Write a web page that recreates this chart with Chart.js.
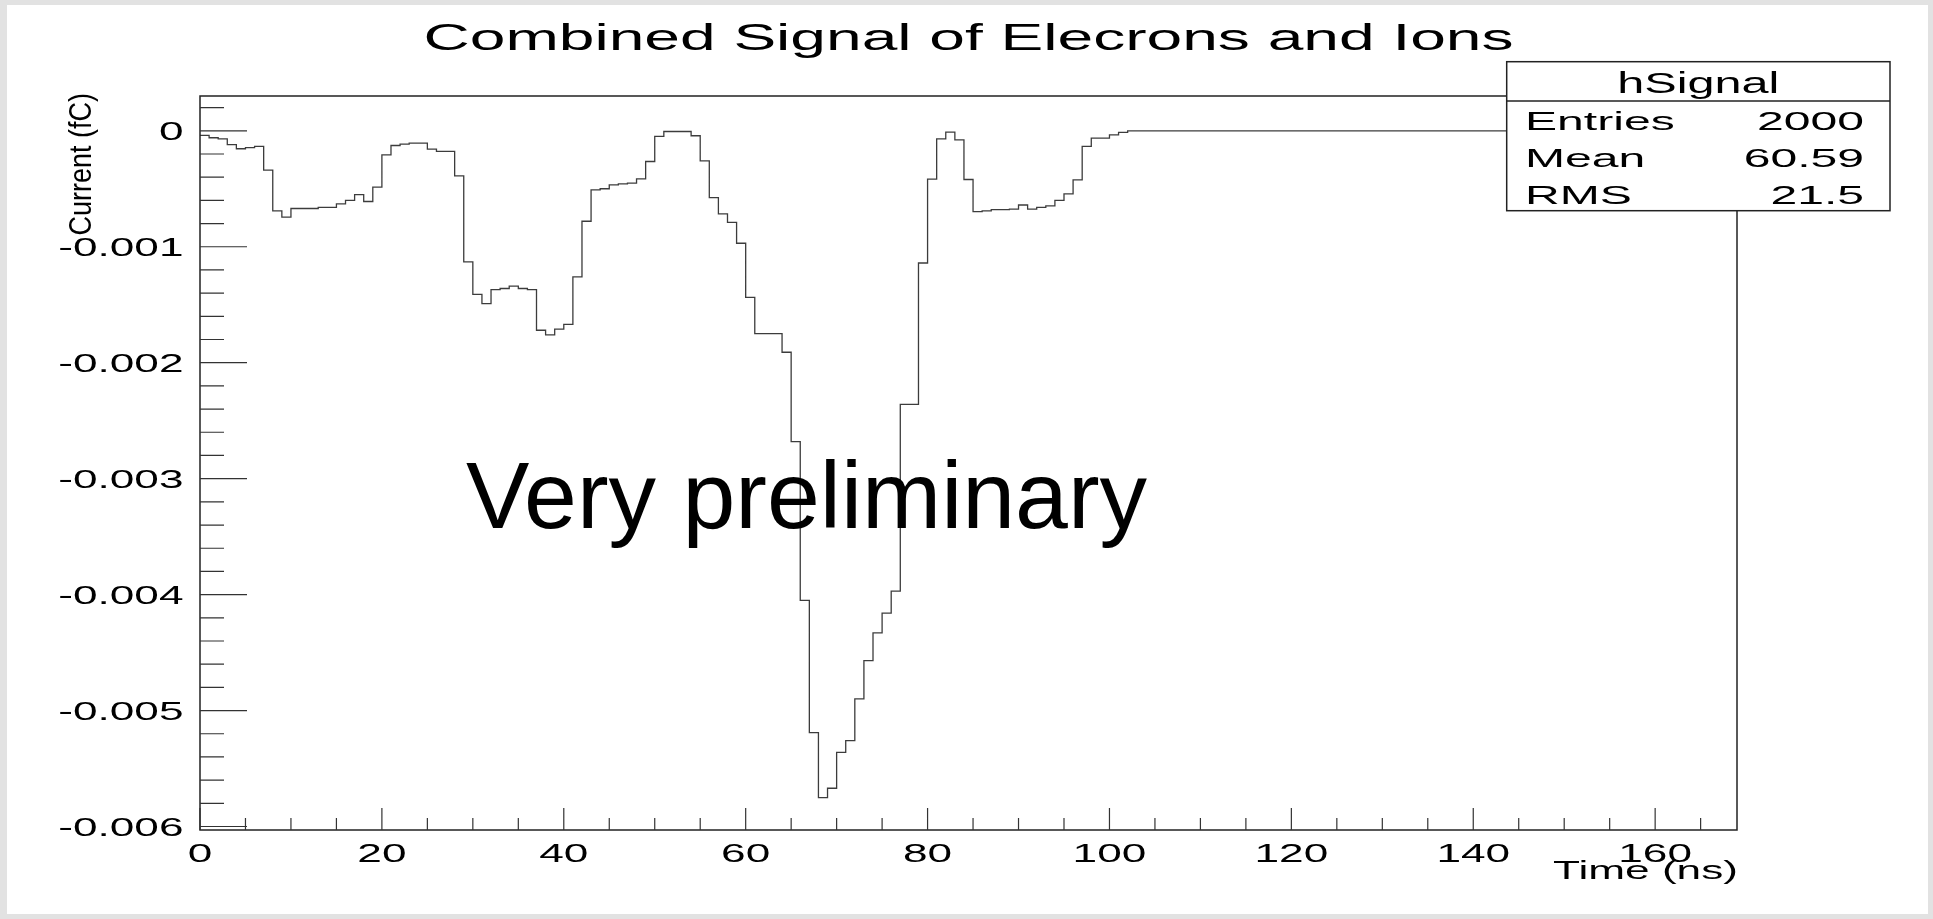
<!DOCTYPE html>
<html>
<head>
<meta charset="utf-8">
<title>Combined Signal of Elecrons and Ions</title>
<script src="https://cdn.jsdelivr.net/npm/chart.js@4.4.1/dist/chart.umd.min.js"></script>
<style>
  html, body { margin: 0; padding: 0; background: #e2e2e2; width: 1933px; height: 919px; overflow: hidden; }
  #signalChart { position: absolute; left: 7px; top: 5px; background: #fff; }
</style>
</head>
<body>
<canvas id="signalChart" width="1921" height="909"></canvas>
<script>
// hSignal bin contents (fC), bins are 1 ns wide starting at 0 ns
var binWidth = 1;
var signalValues = [
  -0.00004, -0.00006, -0.00007, -0.00012, -0.000155, -0.000145, -0.000135, -0.00034, -0.00069, -0.000745,
  -0.00067, -0.00067, -0.00067, -0.00066, -0.00066, -0.00063, -0.0006, -0.00055, -0.00061, -0.000486,
  -0.000207, -0.000127, -0.000115, -0.000107, -0.000107, -0.000158, -0.000178, -0.000178, -0.000389, -0.00113,
  -0.00141, -0.00149, -0.00137, -0.00136, -0.00134, -0.00136, -0.00137, -0.00172, -0.00176, -0.00171,
  -0.00167, -0.00126, -0.00078, -0.00051, -0.0005, -0.000466, -0.000458, -0.000452, -0.000415, -0.000265,
  -0.000049, -0.000006, -0.000006, -0.000006, -0.000043, -0.00026, -0.000576, -0.000717, -0.00079, -0.00097,
  -0.001436, -0.00175, -0.00175, -0.00175, -0.00191, -0.00268, -0.00405, -0.00519, -0.00575, -0.00567,
  -0.00536, -0.00526, -0.0049, -0.00457, -0.00433, -0.00416, -0.00397, -0.00236, -0.00236, -0.00114,
  -0.000417, -0.00007, -0.000012, -0.000078, -0.00042, -0.000697, -0.00069, -0.00068, -0.00068, -0.000676,
  -0.00064, -0.000676, -0.00066, -0.000648, -0.0006, -0.000544, -0.000423, -0.000135, -0.000063, -0.000063,
  -0.000035, -0.000014, 0, 0, 0, 0, 0, 0, 0, 0,
  0, 0, 0, 0, 0, 0, 0, 0, 0, 0,
  0, 0, 0, 0, 0, 0, 0, 0, 0, 0,
  0, 0, 0, 0, 0, 0, 0, 0, 0, 0,
  0, 0, 0, 0, 0, 0, 0, 0, 0, 0,
  0, 0, 0, 0, 0, 0, 0, 0, 0, 0,
  0, 0, 0, 0, 0, 0, 0, 0, 0
];

var xTicks = [0, 20, 40, 60, 80, 100, 120, 140, 160];
var xTickLabels = ['0', '20', '40', '60', '80', '100', '120', '140', '160'];
var yTicks = [0, -0.001, -0.002, -0.003, -0.004, -0.005, -0.006];
var yTickLabels = ['0', '-0.001', '-0.002', '-0.003', '-0.004', '-0.005', '-0.006'];

var statNames = ['Entries', 'Mean', 'RMS'];
var statValues = ['2000', '60.59', '21.5'];

var FONT = '"Liberation Sans", Arial, Helvetica, sans-serif';

// histogram outline: each bin starts at its low edge, last point closes the last bin
var points = signalValues.map(function(v, i) {
    return { x: i * binWidth, y: v };
});
points.push({ x: signalValues.length * binWidth, y: signalValues[signalValues.length - 1] });

// ROOT text looks horizontally stretched, so draw it with a scale
function wideText(ctx, text, x, y, align, base, sx) {
    ctx.save();
    ctx.translate(x, y);
    ctx.scale(sx, 1);
    ctx.textAlign = align;
    ctx.textBaseline = base;
    ctx.fillText(text, 0, 0);
    ctx.restore();
}

var rootStyle = {
    id: 'rootStyle',
    afterDraw: function(chart) {
        var ctx = chart.ctx;
        var area = chart.chartArea;
        var xs = chart.scales.x;
        var ys = chart.scales.y;

        ctx.save();
        // frame
        ctx.strokeStyle = '#222';
        ctx.lineWidth = 1.5;
        ctx.strokeRect(area.left, area.top, area.right - area.left, area.bottom - area.top);

        // ticks, drawn inside the frame
        ctx.lineWidth = 1.2;
        ctx.strokeStyle = '#333';
        ctx.beginPath();
        for (var t = 0; t <= xs.max; t += 5) {
            var px = xs.getPixelForValue(t);
            var len = (t % 20 === 0) ? 22 : 12;
            ctx.moveTo(px, area.bottom);
            ctx.lineTo(px, area.bottom - len);
        }
        for (var m = -30; m <= 1; m++) {
            var py = ys.getPixelForValue(m * 0.0002);
            var ylen = (m % 5 === 0) ? 47 : 24;
            ctx.moveTo(area.left, py);
            ctx.lineTo(area.left + ylen, py);
        }
        ctx.stroke();

        // tick labels
        ctx.fillStyle = '#000';
        ctx.font = '26px ' + FONT;
        xTicks.forEach(function(v, i) {
            wideText(ctx, xTickLabels[i], xs.getPixelForValue(v), 857, 'center', 'alphabetic', 1.7);
        });
        yTicks.forEach(function(v, i) {
            wideText(ctx, yTickLabels[i], 176.5, ys.getPixelForValue(v) + 2, 'right', 'middle', 1.7);
        });

        // axis titles
        wideText(ctx, 'Time (ns)', area.right + 1, 874, 'right', 'alphabetic', 1.7);
        ctx.save();
        ctx.font = '27px ' + FONT;
        ctx.translate(84, 88);
        ctx.scale(1.15, 1);
        ctx.rotate(-Math.PI / 2);
        ctx.textAlign = 'right';
        ctx.textBaseline = 'alphabetic';
        ctx.fillText('Current (fC)', 0, 0);
        ctx.restore();

        // title
        ctx.font = '36px ' + FONT;
        wideText(ctx, 'Combined Signal of Elecrons and Ions', (area.left + area.right) / 2, 45, 'center', 'alphabetic', 1.78);

        // stats box
        var bx = 1499.7, by = 56.7, bw = 1883 - 1499.7, bh = 205.7 - 56.7;
        ctx.fillStyle = '#fff';
        ctx.fillRect(bx, by, bw, bh);
        ctx.strokeStyle = '#222';
        ctx.lineWidth = 1.5;
        ctx.strokeRect(bx, by, bw, bh);
        ctx.beginPath();
        ctx.moveTo(bx, 96);
        ctx.lineTo(bx + bw, 96);
        ctx.stroke();
        ctx.fillStyle = '#000';
        ctx.font = '30px ' + FONT;
        wideText(ctx, 'hSignal', bx + bw / 2, 88.3, 'center', 'alphabetic', 1.62);
        ctx.font = '26px ' + FONT;
        var rowBase = [125, 161.7, 199];
        statNames.forEach(function(name, i) {
            wideText(ctx, name, 1518, rowBase[i], 'left', 'alphabetic', 1.85);
            wideText(ctx, statValues[i], 1857, rowBase[i], 'right', 'alphabetic', 1.85);
        });

        // overlay note
        ctx.font = '95px ' + FONT;
        ctx.textAlign = 'left';
        ctx.textBaseline = 'alphabetic';
        ctx.fillText('Very preliminary', 459, 523);
        ctx.restore();
    }
};

new Chart(document.getElementById('signalChart'), {
    type: 'line',
    data: {
        datasets: [{
            label: 'hSignal',
            data: points,
            stepped: true,
            borderColor: '#3c3c3c',
            borderWidth: 1.3,
            pointRadius: 0,
            fill: false
        }]
    },
    options: {
        responsive: false,
        animation: false,
        layout: { padding: { left: 0, top: 91, right: 191, bottom: 0 } },
        plugins: {
            legend: { display: false },
            tooltip: { enabled: false }
        },
        scales: {
            x: {
                type: 'linear',
                min: 0,
                max: 169,
                grid: { display: false },
                border: { display: false },
                ticks: { display: false },
                afterBuildTicks: function(scale) {
                    scale.ticks = xTicks.map(function(v) { return { value: v }; });
                },
                afterFit: function(scale) { scale.height = 84; }
            },
            y: {
                type: 'linear',
                min: -0.00603,
                max: 0.0003,
                grid: { display: false },
                border: { display: false },
                ticks: { display: false },
                afterBuildTicks: function(scale) {
                    scale.ticks = yTicks.map(function(v) { return { value: v }; });
                },
                afterFit: function(scale) { scale.width = 193; }
            }
        }
    },
    plugins: [rootStyle]
});
</script>
</body>
</html>
